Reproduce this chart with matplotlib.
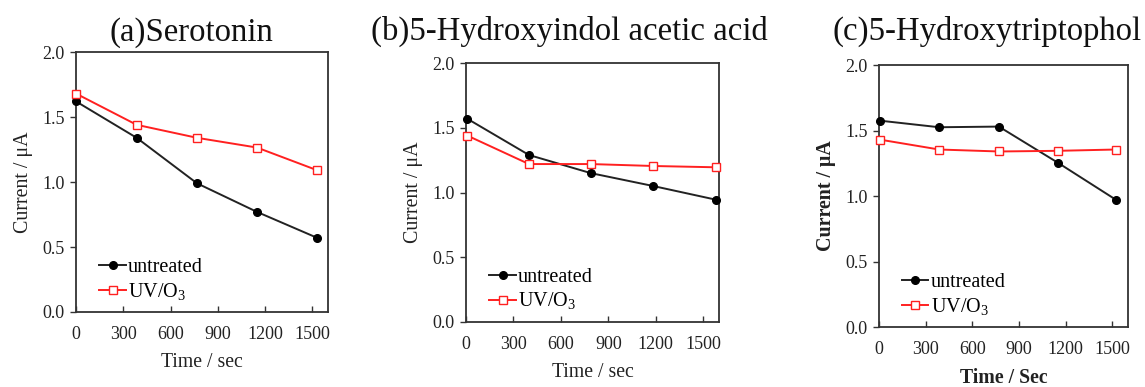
import matplotlib
matplotlib.use("Agg")
import matplotlib.pyplot as plt

plt.rcParams['font.family'] = ['Liberation Serif', 'DejaVu Serif']
plt.rcParams['mathtext.fontset'] = 'custom'
plt.rcParams['mathtext.rm'] = 'Liberation Serif'

# ======================== DATA ========================
titles = ["(a)Serotonin", "(b)5-Hydroxyindol acetic acid", "(c)5-Hydroxytriptophol"]

time_a = [0, 385, 768, 1149, 1532]
untreated_a = [1.62, 1.34, 0.99, 0.77, 0.57]
uvo3_a = [1.68, 1.44, 1.34, 1.265, 1.09]

time_b = [8, 398, 789, 1185, 1579]
untreated_b = [1.57, 1.29, 1.15, 1.05, 0.945]
uvo3_b = [1.44, 1.22, 1.22, 1.205, 1.195]

time_c = [8, 386, 770, 1148, 1524]
untreated_c = [1.575, 1.525, 1.53, 1.255, 0.97]
uvo3_c = [1.43, 1.355, 1.34, 1.345, 1.355]

x_ticks = [0, 300, 600, 900, 1200, 1500]
y_ticks = [0.0, 0.5, 1.0, 1.5, 2.0]
x_labels = ["Time / sec", "Time / sec", "Time / Sec"]
y_label = "Current / μA"

# ======================== LAYOUT ========================
fig = plt.figure(figsize=(11.45, 3.87), dpi=100)

# [left, bottom, width, height] in figure fraction
positions = [
    [0.0664, 0.1938, 0.2201, 0.6718],
    [0.4070, 0.1680, 0.2210, 0.6690],
    [0.7677, 0.1550, 0.2175, 0.6770],
]
title_pos = [(0.167, 0.915), (0.497, 0.92), (0.862, 0.92)]
bold_labels = [False, False, True]

datasets = [
    (time_a, untreated_a, uvo3_a),
    (time_b, untreated_b, uvo3_b),
    (time_c, untreated_c, uvo3_c),
]

spine_color = "#333333"
text_color = "#222222"

for i, (t, un, uv) in enumerate(datasets):
    ax = fig.add_axes(positions[i])
    ax.plot(t, un, color="#222222", lw=1.4, marker="o", ms=5.5,
            mfc="black", mec="black", label="untreated", clip_on=False, zorder=3)
    ax.plot(t, uv, color="#ff2020", lw=1.4, marker="s", ms=5.8,
            mfc="white", mec="#ff2020", mew=1.0, label="UV/O$_3$",
            clip_on=False, zorder=3)

    ax.set_xlim(0, 1600)
    ax.set_ylim(0, 2.0)
    ax.set_xticks(x_ticks)
    ax.set_yticks(y_ticks)
    ax.set_yticklabels([f"{v:.1f}" for v in y_ticks])
    ax.tick_params(axis="x", direction="in", length=4, width=1,
                   color=spine_color, labelcolor=text_color,
                   labelsize=13, pad=10)
    ax.tick_params(axis="y", direction="out", length=4, width=1,
                   color=spine_color, labelcolor=text_color,
                   labelsize=13, pad=4)
    for sp in ax.spines.values():
        sp.set_color(spine_color)
        sp.set_linewidth(1.3)

    weight = "bold" if bold_labels[i] else "normal"
    ax.set_xlabel(x_labels[i], fontsize=14.2, fontweight=weight,
                  labelpad=7, color=text_color)
    ax.set_ylabel(y_label, fontsize=14.4, fontweight=weight,
                  labelpad=7, color=text_color)

    ax.legend(loc="lower left", bbox_to_anchor=(0.045, -0.01), frameon=False,
              fontsize=14.5, handlelength=1.3, handletextpad=0.1,
              borderaxespad=0.2, labelspacing=0.2)

    fig.text(title_pos[i][0], title_pos[i][1], titles[i], fontsize=23.6,
             ha="center", va="center", color="#111111")

fig.savefig("out.png", dpi=100)
